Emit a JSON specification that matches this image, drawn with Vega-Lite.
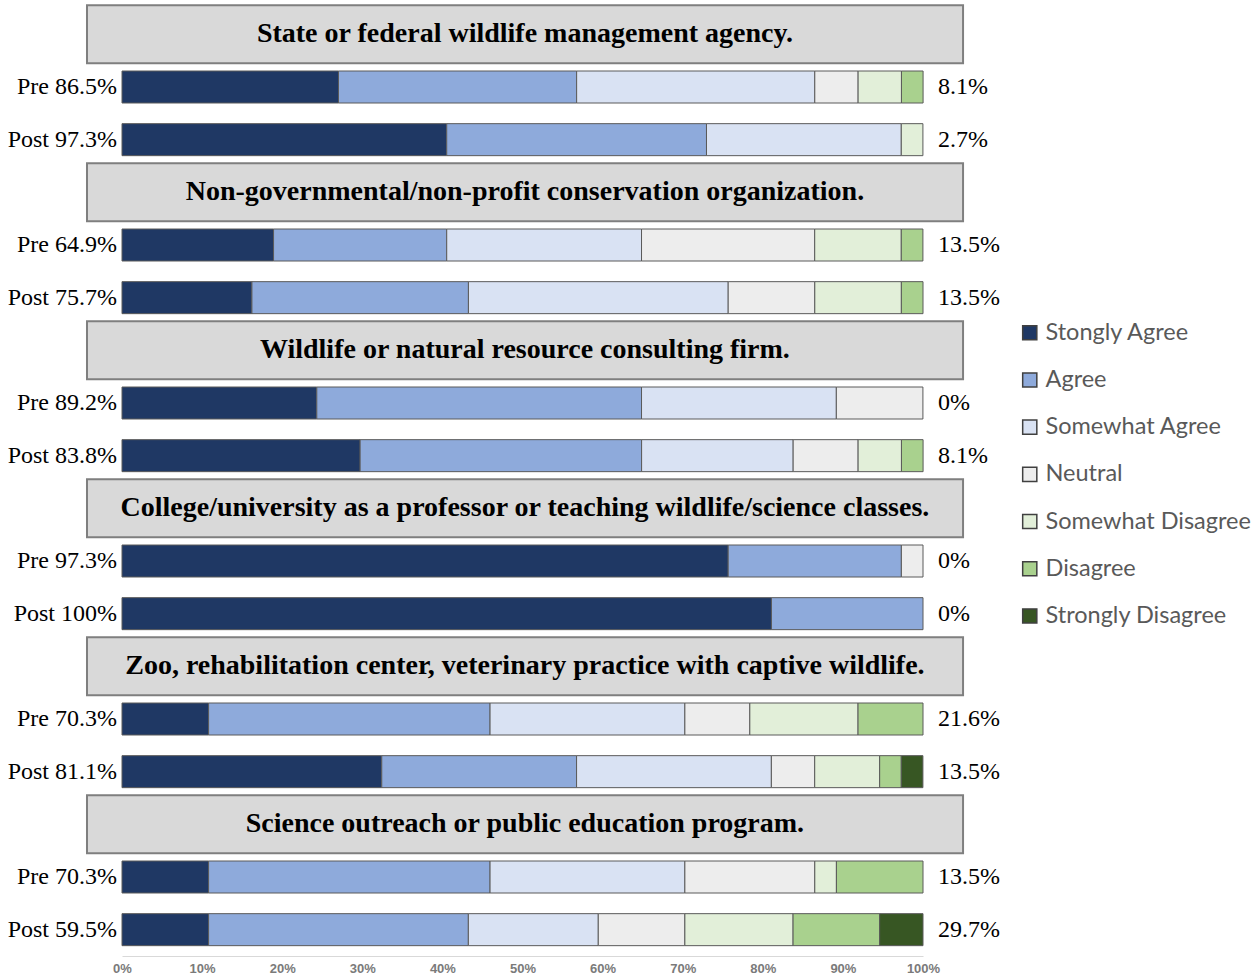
{
  "$schema": "https://vega.github.io/schema/vega-lite/v6.json",
  "autosize": "none",
  "width": 801,
  "height": 948,
  "padding": {"left": 122, "top": 8, "right": 330, "bottom": 20},
  "background": "white",
  "config": {"view": {"stroke": null}},
  "datasets": {
    "cats": [
      {"cat": "Stongly Agree", "k": 1},
      {"cat": "Agree", "k": 2},
      {"cat": "Somewhat Agree", "k": 3},
      {"cat": "Neutral", "k": 4},
      {"cat": "Somewhat Disagree", "k": 5},
      {"cat": "Disagree", "k": 6},
      {"cat": "Strongly Disagree", "k": 7}
    ],
    "bars": [
      {"row": "1a", "cat": "Stongly Agree", "pct": 27.03},
      {"row": "1a", "cat": "Agree", "pct": 29.73},
      {"row": "1a", "cat": "Somewhat Agree", "pct": 29.73},
      {"row": "1a", "cat": "Neutral", "pct": 5.41},
      {"row": "1a", "cat": "Somewhat Disagree", "pct": 5.41},
      {"row": "1a", "cat": "Disagree", "pct": 2.70},
      {"row": "1b", "cat": "Stongly Agree", "pct": 40.54},
      {"row": "1b", "cat": "Agree", "pct": 32.43},
      {"row": "1b", "cat": "Somewhat Agree", "pct": 24.32},
      {"row": "1b", "cat": "Somewhat Disagree", "pct": 2.70},
      {"row": "2a", "cat": "Stongly Agree", "pct": 18.92},
      {"row": "2a", "cat": "Agree", "pct": 21.62},
      {"row": "2a", "cat": "Somewhat Agree", "pct": 24.32},
      {"row": "2a", "cat": "Neutral", "pct": 21.62},
      {"row": "2a", "cat": "Somewhat Disagree", "pct": 10.81},
      {"row": "2a", "cat": "Disagree", "pct": 2.70},
      {"row": "2b", "cat": "Stongly Agree", "pct": 16.22},
      {"row": "2b", "cat": "Agree", "pct": 27.03},
      {"row": "2b", "cat": "Somewhat Agree", "pct": 32.43},
      {"row": "2b", "cat": "Neutral", "pct": 10.81},
      {"row": "2b", "cat": "Somewhat Disagree", "pct": 10.81},
      {"row": "2b", "cat": "Disagree", "pct": 2.70},
      {"row": "3a", "cat": "Stongly Agree", "pct": 24.32},
      {"row": "3a", "cat": "Agree", "pct": 40.54},
      {"row": "3a", "cat": "Somewhat Agree", "pct": 24.32},
      {"row": "3a", "cat": "Neutral", "pct": 10.81},
      {"row": "3b", "cat": "Stongly Agree", "pct": 29.73},
      {"row": "3b", "cat": "Agree", "pct": 35.14},
      {"row": "3b", "cat": "Somewhat Agree", "pct": 18.92},
      {"row": "3b", "cat": "Neutral", "pct": 8.11},
      {"row": "3b", "cat": "Somewhat Disagree", "pct": 5.41},
      {"row": "3b", "cat": "Disagree", "pct": 2.70},
      {"row": "4a", "cat": "Stongly Agree", "pct": 75.68},
      {"row": "4a", "cat": "Agree", "pct": 21.62},
      {"row": "4a", "cat": "Neutral", "pct": 2.70},
      {"row": "4b", "cat": "Stongly Agree", "pct": 81.08},
      {"row": "4b", "cat": "Agree", "pct": 18.92},
      {"row": "5a", "cat": "Stongly Agree", "pct": 10.81},
      {"row": "5a", "cat": "Agree", "pct": 35.14},
      {"row": "5a", "cat": "Somewhat Agree", "pct": 24.32},
      {"row": "5a", "cat": "Neutral", "pct": 8.11},
      {"row": "5a", "cat": "Somewhat Disagree", "pct": 13.51},
      {"row": "5a", "cat": "Disagree", "pct": 8.11},
      {"row": "5b", "cat": "Stongly Agree", "pct": 32.43},
      {"row": "5b", "cat": "Agree", "pct": 24.32},
      {"row": "5b", "cat": "Somewhat Agree", "pct": 24.32},
      {"row": "5b", "cat": "Neutral", "pct": 5.41},
      {"row": "5b", "cat": "Somewhat Disagree", "pct": 8.11},
      {"row": "5b", "cat": "Disagree", "pct": 2.70},
      {"row": "5b", "cat": "Strongly Disagree", "pct": 2.70},
      {"row": "6a", "cat": "Stongly Agree", "pct": 10.81},
      {"row": "6a", "cat": "Agree", "pct": 35.14},
      {"row": "6a", "cat": "Somewhat Agree", "pct": 24.32},
      {"row": "6a", "cat": "Neutral", "pct": 16.22},
      {"row": "6a", "cat": "Somewhat Disagree", "pct": 2.70},
      {"row": "6a", "cat": "Disagree", "pct": 10.81},
      {"row": "6b", "cat": "Stongly Agree", "pct": 10.81},
      {"row": "6b", "cat": "Agree", "pct": 32.43},
      {"row": "6b", "cat": "Somewhat Agree", "pct": 16.22},
      {"row": "6b", "cat": "Neutral", "pct": 10.81},
      {"row": "6b", "cat": "Somewhat Disagree", "pct": 13.51},
      {"row": "6b", "cat": "Disagree", "pct": 10.81},
      {"row": "6b", "cat": "Strongly Disagree", "pct": 5.41}
    ],
    "labels": [
      {"row": "1a", "left": "Pre 86.5%", "right": "8.1%"},
      {"row": "1b", "left": "Post 97.3%", "right": "2.7%"},
      {"row": "2a", "left": "Pre 64.9%", "right": "13.5%"},
      {"row": "2b", "left": "Post 75.7%", "right": "13.5%"},
      {"row": "3a", "left": "Pre 89.2%", "right": "0%"},
      {"row": "3b", "left": "Post 83.8%", "right": "8.1%"},
      {"row": "4a", "left": "Pre 97.3%", "right": "0%"},
      {"row": "4b", "left": "Post 100%", "right": "0%"},
      {"row": "5a", "left": "Pre 70.3%", "right": "21.6%"},
      {"row": "5b", "left": "Post 81.1%", "right": "13.5%"},
      {"row": "6a", "left": "Pre 70.3%", "right": "13.5%"},
      {"row": "6b", "left": "Post 59.5%", "right": "29.7%"}
    ],
    "headers": [
      {"row": "1h", "title": "State or federal wildlife management agency."},
      {"row": "2h", "title": "Non-governmental/non-profit conservation organization."},
      {"row": "3h", "title": "Wildlife or natural resource consulting firm."},
      {"row": "4h", "title": "College/university as a professor or teaching wildlife/science classes."},
      {"row": "5h", "title": "Zoo, rehabilitation center, veterinary practice with captive wildlife."},
      {"row": "6h", "title": "Science outreach or public education program."}
    ]
  },
  "encoding": {
    "y": {
      "field": "row",
      "type": "nominal",
      "axis": null,
      "scale": {
        "type": "band",
        "paddingInner": 0,
        "paddingOuter": 0,
        "domain": ["1h", "1a", "1b", "2h", "2a", "2b", "3h", "3a", "3b", "4h", "4a", "4b", "5h", "5a", "5b", "6h", "6a", "6b"]
      }
    }
  },
  "layer": [
    {
      "data": {"name": "bars"},
      "transform": [
        {"lookup": "cat", "from": {"data": {"name": "cats"}, "key": "cat", "fields": ["k"]}}
      ],
      "mark": {"type": "bar", "size": 32, "stroke": "#5a5a5a", "strokeWidth": 1},
      "encoding": {
        "x": {
          "field": "pct",
          "type": "quantitative",
          "stack": "zero",
          "scale": {"domain": [0, 100], "nice": false},
          "axis": {
            "values": [0, 10, 20, 30, 40, 50, 60, 70, 80, 90, 100],
            "labelExpr": "datum.value + '%'",
            "title": null,
            "grid": false,
            "ticks": false,
            "domainColor": "#d9d9d9",
            "domainWidth": 1,
            "labelFlush": false,
            "labelOverlap": false,
            "labelFont": "Liberation Sans",
            "labelFontSize": 13,
            "labelFontWeight": "bold",
            "labelColor": "#7a7a7a",
            "labelPadding": 6
          }
        },
        "order": {"field": "k", "type": "quantitative", "sort": "ascending"},
        "color": {
          "field": "cat",
          "type": "nominal",
          "sort": ["Stongly Agree", "Agree", "Somewhat Agree", "Neutral", "Somewhat Disagree", "Disagree", "Strongly Disagree"],
          "scale": {
            "domain": ["Stongly Agree", "Agree", "Somewhat Agree", "Neutral", "Somewhat Disagree", "Disagree", "Strongly Disagree"],
            "range": ["#1f3864", "#8eaadb", "#d9e2f3", "#ededed", "#e2efd9", "#a9d18e", "#375623"]
          },
          "legend": {
            "title": null,
            "orient": "none",
            "legendX": 896,
            "legendY": 313,
            "symbolType": "square",
            "symbolSize": 200,
            "symbolStrokeColor": "#404040",
            "symbolStrokeWidth": 1.5,
            "labelFont": "Lato",
            "labelFontSize": 23.5,
            "labelColor": "#595959",
            "labelOffset": 4,
            "rowPadding": 22.2,
            "labelLimit": 300
          }
        }
      }
    },
    {
      "data": {"name": "headers"},
      "mark": {"type": "bar", "size": 58, "fill": "#d9d9d9", "stroke": "#7f7f7f", "strokeWidth": 2},
      "encoding": {
        "x": {"datum": -4.37, "type": "quantitative"},
        "x2": {"datum": 105}
      }
    },
    {
      "data": {"name": "headers"},
      "mark": {"type": "text", "font": "Liberation Serif", "fontWeight": "bold", "fontSize": 28, "color": "#000000", "align": "center", "baseline": "middle"},
      "encoding": {
        "x": {"datum": 50.3, "type": "quantitative"},
        "text": {"field": "title"}
      }
    },
    {
      "data": {"name": "labels"},
      "mark": {"type": "text", "font": "Liberation Serif", "fontSize": 24, "color": "#000000", "align": "right", "baseline": "middle", "dx": -5},
      "encoding": {
        "x": {"datum": 0, "type": "quantitative"},
        "text": {"field": "left"}
      }
    },
    {
      "data": {"name": "labels"},
      "mark": {"type": "text", "font": "Liberation Serif", "fontSize": 24, "color": "#000000", "align": "left", "baseline": "middle", "dx": 15},
      "encoding": {
        "x": {"datum": 100, "type": "quantitative"},
        "text": {"field": "right"}
      }
    }
  ]
}
